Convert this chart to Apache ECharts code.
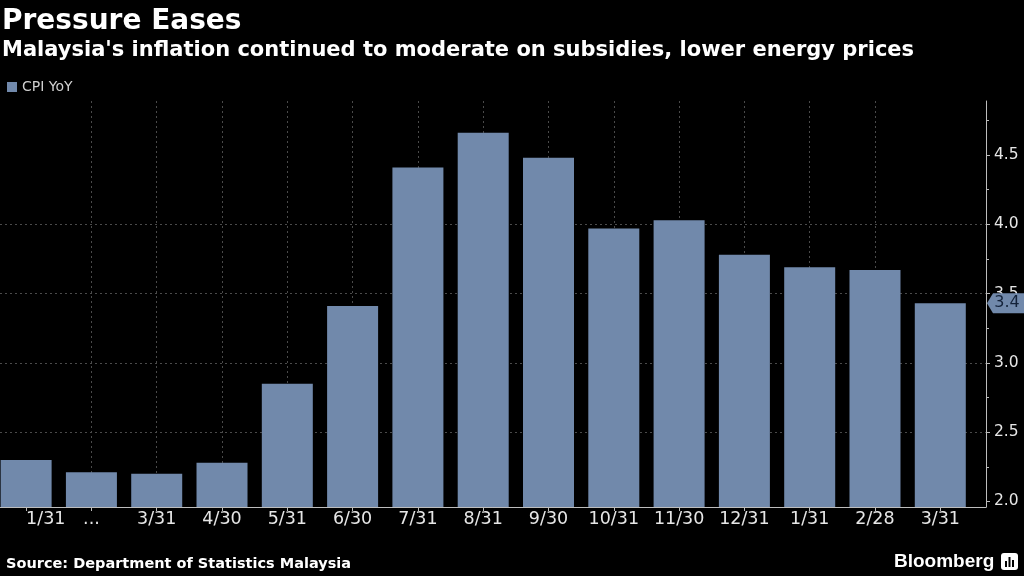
<!DOCTYPE html>
<html><head><meta charset="utf-8">
<script src="https://cdn.jsdelivr.net/npm/echarts@6/dist/echarts.min.js"></script>
<style>html,body{margin:0;padding:0;background:#000;}#c{width:1024px;height:576px;}</style>
</head><body><div id="c"></div>
<script>
const categories = ['2022-01','2022-02','2022-03','2022-04','2022-05','2022-06','2022-07','2022-08','2022-09','2022-10','2022-11','2022-12','2023-01','2023-02','2023-03'];
const tickLabels = ['1/31','...','3/31','4/30','5/31','6/30','7/31','8/31','9/30','10/31','11/30','12/31','1/31','2/28','3/31'];
const cpiYoY = [2.30,2.21,2.20,2.28,2.85,3.41,4.41,4.66,4.48,3.97,4.03,3.78,3.69,3.67,3.43];
const yTicks = [2.0,2.5,3.0,3.5,4.0,4.5];

const idx = categories.map((c,i)=>i);
const lastI = cpiYoY.length - 1;
const axisCol = '#bdbdbd';
const gridCol = '#4a4a4a';
const barCol = '#7189ab';
const FF = '"DejaVu Sans", sans-serif';

const chart = echarts.init(document.getElementById('c'), null, {renderer:'canvas'});
chart.setOption({
  backgroundColor:'#000',
  animation:false,
  title:[
    {text:'Pressure Eases', left:2, top:8, padding:0, textStyle:{color:'#fff', fontSize:28, fontWeight:'bold', fontFamily:FF, lineHeight:28}},
    {text:"Malaysia's inflation continued to moderate on subsidies, lower energy prices", left:2, top:40.5, padding:0, textStyle:{color:'#fff', fontSize:21, fontWeight:'bold', fontFamily:FF, lineHeight:21}},
    {text:'Source: Department of Statistics Malaysia', left:6, top:557, padding:0, textStyle:{color:'#fff', fontSize:14.5, fontWeight:'bold', fontFamily:FF, lineHeight:14.5}}
  ],
  legend:{left:7, top:80, padding:0, itemWidth:10, itemHeight:10, icon:'rect', data:['CPI YoY'],
    textStyle:{color:'#cfcfcf', fontSize:14, fontFamily:FF}},
  grid:{left:0, right:38, top:101, bottom:69},
  xAxis:{type:'value', min:-0.4, max:14.7, splitNumber:15,
    axisLine:{show:true, onZero:false, lineStyle:{color:axisCol}},
    axisTick:{show:true, customValues:idx, length:4, lineStyle:{color:axisCol}},
    axisLabel:{customValues:idx, formatter:v=>tickLabels[Math.round(v)], color:'#e6e6e6', fontSize:17.5, fontFamily:FF, margin:3, alignMinLabel:'left'},
    splitLine:{show:true, showMinLine:false, showMaxLine:false, lineStyle:{color:gridCol, type:[2,3]}}
  },
  yAxis:{type:'value', position:'right', min:1.96, max:4.89, splitNumber:5,
    axisLine:{show:true, onZero:false, lineStyle:{color:axisCol}},
    axisTick:{show:true, customValues:yTicks, length:4, lineStyle:{color:axisCol}},
    minorTick:{show:true, splitNumber:2, length:3, lineStyle:{color:axisCol}},
    axisLabel:{customValues:yTicks, formatter:v=>v.toFixed(1), color:'#e6e6e6', fontSize:15.5, fontFamily:FF, margin:8, padding:[3,0,0,0]},
    splitLine:{show:true, showMinLine:false, showMaxLine:false, lineStyle:{color:gridCol, type:[2,3]}},
    minorSplitLine:{show:false}
  },
  series:[{
    type:'bar', name:'CPI YoY', barWidth:51, clip:true,
    data:cpiYoY.map((v,i)=>[i,v]),
    itemStyle:{color:barCol},
    markPoint:{
      symbol:'path://M0,10 L6,0 L40,0 L40,20 L6,20 Z',
      symbolSize:[40,20], symbolOffset:[66.7,0],
      itemStyle:{color:barCol},
      label:{show:true, formatter:p=>p.value.toFixed(1), color:'#14233a', fontSize:16, fontFamily:FF},
      data:[{coord:[lastI, cpiYoY[lastI]], value:cpiYoY[lastI]}]
    }
  }],
  graphic:[
    {type:'text', left:894, top:552, style:{text:'Bloomberg', fill:'#fff', font:'bold 19px "Liberation Sans", sans-serif'}},
    {type:'group', left:1001, top:553, children:[
      {type:'rect', shape:{x:0,y:0,width:17,height:17,r:3}, style:{fill:'#fff'}},
      {type:'rect', shape:{x:4,y:8,width:2,height:6}, style:{fill:'#000'}},
      {type:'rect', shape:{x:7.5,y:4,width:2,height:10}, style:{fill:'#000'}},
      {type:'rect', shape:{x:11,y:7,width:2,height:7}, style:{fill:'#000'}}
    ]}
  ]
});
</script></body></html>
